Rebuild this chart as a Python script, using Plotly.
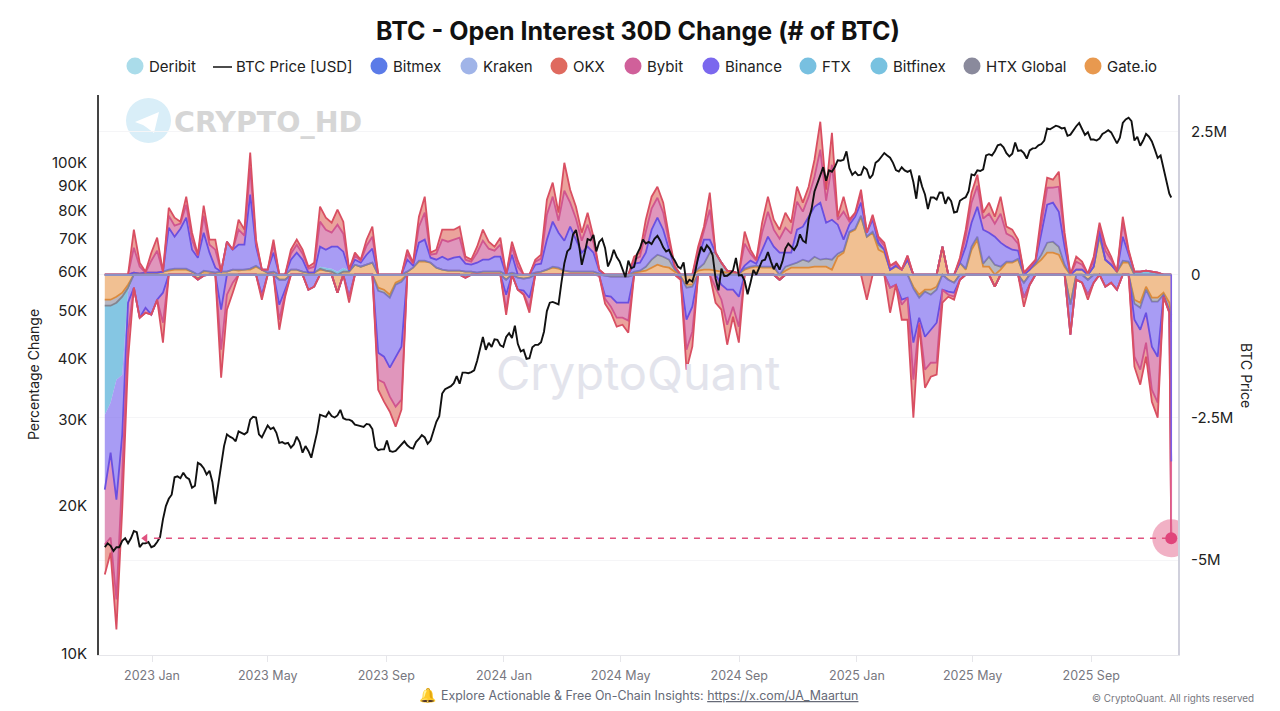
import pandas as pd
import plotly.graph_objects as go

# 30D open interest change per exchange, thousands of BTC
gate = [
    -438,-438,-385,-315,-175,35,18,35,35,35,
    53,70,88,88,88,53,-70,53,53,35,
    53,53,88,70,88,88,140,88,35,53,
    -88,-88,88,88,53,35,35,88,70,53,
    -315,53,53,175,140,175,210,-228,-263,-350,
    -140,-88,53,123,228,228,210,123,88,70,
    70,70,53,53,35,53,53,53,53,-88,
    35,-53,-70,-53,35,53,88,123,105,70,
    53,53,53,53,53,18,-18,-35,-35,-35,
    -35,35,53,70,123,175,140,123,53,-35,
    -175,-175,70,88,88,70,53,35,35,18,
    88,123,140,123,123,123,-88,70,123,123,
    123,123,140,140,140,88,315,385,735,788,
    1015,665,735,438,385,88,140,88,263,-210,
    -350,-263,-263,-210,490,-88,-140,210,88,438,
    613,140,140,-210,88,210,210,263,-140,88,
    175,263,385,385,350,140,-525,88,88,-88,
    140,665,263,175,53,210,210,-438,-490,-210,
    -403,-403,-315,-490,-700,
]
htx = [
    -105,-105,-105,-70,-53,0,0,0,0,0,
    0,18,18,18,18,0,0,18,0,0,
    0,0,0,18,0,18,18,0,0,0,
    0,0,0,0,0,0,0,18,0,0,
    0,0,0,0,0,0,0,-53,-53,-53,
    -35,-35,0,0,18,18,0,0,0,0,
    0,0,0,0,0,0,0,0,0,0,
    0,0,0,0,0,0,0,18,18,0,
    0,0,0,0,0,0,0,0,0,0,
    0,18,18,70,140,175,175,140,35,0,
    -53,-35,35,105,298,315,158,35,18,0,
    18,18,18,18,18,18,0,70,53,88,
    140,105,175,123,140,175,53,35,18,18,
    18,0,18,88,53,0,18,0,0,-35,
    -53,-35,-88,-53,0,0,0,0,18,53,
    53,53,175,175,53,18,18,18,0,0,
    18,88,175,193,140,35,0,0,0,0,
    0,18,0,0,0,35,18,-70,-88,-53,
    -70,-70,-35,-123,-123,
]
ftx = [
    -1908,-1698,-1348,-1365,-70,0,0,0,0,0,
    0,0,0,0,0,0,-18,-18,0,0,
    0,0,0,0,0,0,0,0,0,0,
    0,0,0,0,0,0,0,35,53,53,
    53,70,18,0,0,0,0,0,0,0,
    0,0,0,0,0,0,0,0,0,0,
    0,0,-53,0,0,0,0,0,0,0,
    0,0,0,0,0,0,0,0,0,0,
    0,0,0,0,0,-18,0,0,0,0,
    0,0,0,0,0,0,0,0,0,0,
    0,0,0,0,0,0,0,0,0,0,
    0,0,0,0,0,0,0,0,0,0,
    0,0,0,0,0,0,0,0,0,0,
    0,0,0,0,0,0,0,0,0,0,
    0,0,0,0,0,0,0,0,0,0,
    0,0,0,0,0,0,0,0,0,0,
    0,0,0,0,0,0,0,0,0,0,
    0,0,0,0,0,0,0,53,53,70,
    53,35,0,0,0,
]
binance = [
    -1313,-875,-2100,-1050,-193,-228,-753,-578,-700,-438,
    -315,735,560,700,893,385,298,665,333,88,
    -613,525,350,438,438,1295,333,-350,53,333,
    -438,-175,175,298,210,-263,-210,350,315,385,
    438,280,-385,88,70,175,245,-1085,-1120,-1225,
    -1260,-1138,210,35,315,368,88,140,228,193,
    228,245,140,123,175,210,210,263,263,-263,
    315,-210,-210,-350,140,140,525,788,613,525,
    788,560,333,438,333,53,-350,-350,-455,-455,
    -455,140,140,245,525,648,473,175,35,-35,
    -560,-350,175,420,228,0,-175,-263,-263,-385,
    53,105,35,298,525,350,385,245,210,578,
    578,788,875,998,630,700,508,193,123,210,
    228,70,210,35,0,-228,-175,-438,-403,-945,
    -350,-788,-613,-578,-263,-210,-175,-88,385,420,
    525,595,420,490,420,263,210,140,-263,-175,
    35,350,665,683,613,315,-525,-88,-140,-263,
    -140,88,-210,-140,-263,420,123,-280,-385,-403,
    -788,-963,-18,-35,-2450,
]
bybit = [
    -963,-1488,-1750,-700,-525,438,123,-88,210,385,
    -525,210,193,88,228,175,35,298,140,315,
    -700,-350,-140,263,158,473,70,-35,0,140,
    -263,-70,105,140,105,70,105,438,350,245,
    385,315,18,70,35,158,210,-473,-455,-508,
    -875,-928,105,35,280,473,53,105,298,315,
    315,333,70,53,175,333,193,105,210,-263,
    140,140,-53,-175,53,88,438,438,210,875,
    420,368,210,385,175,18,-53,-175,-263,-263,
    -315,70,105,368,368,350,298,140,18,-18,
    -525,-438,123,140,525,-228,-263,-613,-298,-525,
    385,123,53,298,438,298,245,438,333,490,
    263,350,525,928,385,963,88,490,53,53,
    158,0,53,70,70,70,35,-88,70,-648,
    -88,-578,-578,-700,0,-53,-70,53,175,350,
    368,193,333,228,508,228,228,123,35,35,
    18,210,298,263,438,158,0,140,88,18,
    105,88,158,88,0,245,53,-648,-700,-525,
    -753,-805,-18,-18,-1330,
]
okx = [
    -525,-263,-525,-600,-473,315,70,18,140,228,
    -350,140,140,35,140,123,18,175,88,175,
    -490,-263,-175,175,105,263,53,-53,0,88,
    -175,-53,70,88,70,35,70,263,210,175,
    263,210,-105,53,18,105,175,-175,-333,-263,
    -350,-175,70,18,175,280,35,70,175,210,
    175,193,53,35,105,193,123,70,123,-88,
    88,105,-18,-88,35,70,263,245,140,490,
    228,210,140,210,105,0,-88,-105,-158,-123,
    -210,53,70,210,210,193,175,88,0,0,
    -350,-263,88,88,298,-263,-175,-350,-175,-280,
    210,70,18,175,263,175,158,263,193,263,
    158,175,298,490,193,560,53,263,35,18,
    70,-438,35,35,53,-438,35,-263,-385,-665,
    -35,-315,-245,-210,-228,-35,-53,35,123,175,
    193,105,193,123,298,123,123,70,-158,18,
    18,140,175,140,263,88,0,88,53,-88,
    70,53,105,53,0,105,35,-175,-263,-245,
    -210,-263,0,0,0,
]
# these barely leave the zero line
flat_dates = ["2022-11-13", "2023-11-13", "2024-11-13", "2025-11-23"]
bitmex = [-5, 0, 0, 0]
kraken = [0, 0, 0, 0]
bitfinex = [0, 0, 0, 0]
deribit = [0, 0, 0, 0]

# BTC price, thousands of USD
price = [
    16.5,16.8,16.6,16.2,16.5,16.5,17.0,17.2,16.8,17.2,17.8,17.7,16.5,16.8,16.8,16.9,16.5,16.6,16.9,17.3,
    18.8,20.0,20.7,21.1,22.9,23.0,22.8,23.4,22.9,22.7,21.8,22.0,24.5,24.3,23.9,23.2,23.6,22.4,20.2,21.9,
    24.2,26.5,28.0,27.7,27.5,27.1,28.4,28.2,28.0,28.3,30.0,30.4,30.3,28.0,27.6,28.4,29.2,28.7,28.9,28.2,
    26.9,27.0,26.8,26.9,26.3,26.7,27.7,27.0,25.7,26.5,25.9,25.1,26.5,28.3,30.7,30.5,30.4,31.1,30.5,30.3,
    30.6,31.4,30.2,30.0,30.0,29.8,29.3,29.2,29.1,29.0,29.4,29.3,28.7,26.4,26.0,26.1,26.1,27.2,25.9,25.8,
    25.9,26.3,26.6,27.1,26.6,26.3,26.2,27.0,27.4,27.9,27.6,26.8,27.2,28.3,29.7,30.5,33.9,34.6,34.9,35.1,
    35.6,36.8,35.5,37.4,37.4,37.3,37.5,37.8,39.5,41.9,44.2,41.6,43.0,42.2,43.7,43.6,42.5,42.2,44.2,45.0,
    44.0,46.6,42.8,41.3,41.6,39.9,40.0,42.1,42.6,42.6,43.1,45.3,49.9,51.9,52.1,51.8,51.5,57.0,62.4,66.0,
    66.9,71.5,73.0,68.4,62.0,65.5,69.9,69.5,71.3,66.0,69.0,70.0,67.1,61.5,63.5,66.5,64.3,63.0,60.6,58.5,
    63.2,61.0,61.4,65.2,67.0,69.8,68.5,69.0,68.3,70.0,71.0,69.4,67.3,66.0,66.5,64.5,63.2,61.5,60.9,62.7,
    56.7,57.8,57.3,60.0,64.1,67.5,65.9,67.9,66.8,64.8,58.1,55.0,60.9,58.8,58.9,59.5,60.4,64.0,59.0,59.1,
    57.5,54.0,57.0,60.5,59.2,61.0,63.2,63.5,65.8,63.0,60.7,62.5,60.6,63.0,66.9,68.5,67.4,66.5,68.0,71.5,
    69.4,68.8,76.7,80.5,87.4,91.0,94.3,98.0,91.9,96.5,95.9,98.0,101.2,101.0,101.4,105.5,97.5,94.5,95.8,94.3,
    94.6,98.0,96.9,93.0,94.5,100.0,101.1,103.0,104.7,103.5,102.4,100.0,96.6,96.0,97.9,96.5,95.8,96.5,91.4,84.5,
    94.2,89.5,86.2,80.5,85.0,85.0,84.2,87.0,86.9,82.5,85.2,83.5,79.2,79.5,83.7,84.5,85.1,87.5,94.7,94.3,
    96.5,96.2,97.0,103.5,104.1,103.5,105.6,108.5,109.0,107.5,104.6,103.0,104.3,110.0,105.7,106.0,104.6,102.0,106.0,107.0,
    107.1,108.5,109.2,111.0,117.5,117.0,117.9,119.0,118.5,117.5,117.8,113.5,114.1,116.5,118.7,120.5,117.5,114.0,115.4,111.5,
    111.5,111.0,112.0,114.5,115.4,116.5,115.3,112.5,109.5,112.5,120.5,122.5,123.5,121.5,111.0,113.0,108.3,111.0,114.5,113.0,
    110.5,106.5,102.3,103.5,97.0,92.0,86.5,85.0,
]
dates = list(pd.date_range("2022-11-13", "2025-11-21", periods=184)) + [pd.Timestamp("2025-11-23")]
price_dates = list(pd.date_range("2022-11-13", "2025-11-21", periods=367)) + [pd.Timestamp("2025-11-23")]

level_dates = ["2023-01-03", "2025-11-23"]
level_price = [17.2, 17.2]
arrow_date = ["2022-12-25"]
arrow_price = [17.2]
point_date = ["2025-11-23"]
point_price = [17.2]

price_ticks = [10, 20, 30, 40, 50, 60, 70, 80, 90, 100]
oi_ticks = [2.5e6, 0, -2.5e6, -5e6]
oi_labels = ["2.5M", "0", "-2.5M", "-5M"]

legend_names = ["Deribit", "BTC Price [USD]", "Bitmex", "Kraken", "OKX", "Bybit", "Binance",
                "FTX", "Bitfinex", "HTX Global", "Gate.io"]
legend_text_x = [149, 236, 393, 483, 573, 647, 725, 822, 893, 986, 1107]

FONT = "Inter, 'Liberation Sans', sans-serif"
PLOT_L, PLOT_R, PLOT_T, PLOT_B = 99, 1178, 95, 655


def px(x):
    return (x - PLOT_L) / (PLOT_R - PLOT_L)


def py(y):
    return (PLOT_B - y) / (PLOT_B - PLOT_T)


def rgba(hex_color, alpha):
    r, g, b = (int(hex_color[i:i + 2], 16) for i in (1, 3, 5))
    return f"rgba({r},{g},{b},{alpha})"


def add_stacked(fig, name, values, line_color=None, alpha=0.62):
    # positive and negative days stack away from zero on their own
    pos = [max(v, 0) * 1000 for v in values]
    neg = [min(v, 0) * 1000 for v in values]
    for group, ys in (("up", pos), ("down", neg)):
        fig.add_trace(go.Scatter(
            x=dates, y=ys, name=name, stackgroup=group, showlegend=False,
            mode="lines", yaxis="y",
            line=dict(color=line_color or COLORS[name], width=1.8 if line_color else 0),
            fillcolor=rgba(COLORS[name], alpha),
        ))


def note(text, x, y, size, color, family=FONT, anchor="center", angle=0, weight=None):
    return dict(text=text, x=px(x), y=py(y), xref="paper", yref="paper", showarrow=False,
                xanchor=anchor, yanchor="middle", textangle=angle,
                font=dict(family=family, size=size, color=color, weight=weight))


COLORS = {
    "Deribit": "#aadcea", "Bitmex": "#5b7be8", "Kraken": "#a0b4e8", "OKX": "#df6a5f",
    "Bybit": "#d0609a", "Binance": "#7b68ee", "FTX": "#78c0e0", "Bitfinex": "#78c2e0",
    "HTX Global": "#8a8a9c", "Gate.io": "#e8994f",
}

fig = go.Figure()

# nearest to zero goes in first
add_stacked(fig, "Gate.io", gate, line_color="#dc8a3c")
add_stacked(fig, "HTX Global", htx, line_color="#84848f")
add_stacked(fig, "FTX", ftx, alpha=0.9)
add_stacked(fig, "Binance", binance, line_color="#6a4fe0", alpha=0.66)
add_stacked(fig, "Bybit", bybit, line_color="#d0558f", alpha=0.66)
add_stacked(fig, "OKX", okx, line_color="#d94f62")

for name, vals in (("Kraken", kraken), ("Bitfinex", bitfinex), ("Deribit", deribit)):
    fig.add_trace(go.Scatter(
        x=flat_dates, y=[v * 1000 for v in vals], name=name, mode="lines", showlegend=False,
        yaxis="y", line=dict(color=COLORS[name], width=0.5),
    ))
fig.add_trace(go.Scatter(
    x=flat_dates, y=[v * 1000 for v in bitmex], name="Bitmex", mode="lines", showlegend=False,
    yaxis="y", line=dict(color="#8d90c4", width=1.9),
))

# last day plunge, redrawn so the purple part is not hidden under the red edge
last_binance = (gate[-1] + htx[-1] + ftx[-1] + binance[-1]) * 1000
last_total = last_binance + (bybit[-1] + okx[-1]) * 1000
fig.add_trace(go.Scatter(x=[dates[-1], dates[-1]], y=[0, last_binance], mode="lines", showlegend=False,
                         yaxis="y", line=dict(color="#7b5fe8", width=1.6)))
fig.add_trace(go.Scatter(x=[dates[-1], dates[-1]], y=[last_binance, last_total], mode="lines",
                         showlegend=False, yaxis="y", line=dict(color="#e0689c", width=1.6)))

fig.add_trace(go.Scatter(
    x=price_dates, y=[p * 1000 for p in price], name="BTC Price [USD]", mode="lines", showlegend=False,
    yaxis="y2", line=dict(color="#111111", width=1.9),
))

# price level marked by the original author
fig.add_trace(go.Scatter(
    x=level_dates, y=[p * 1000 for p in level_price], mode="lines", showlegend=False, yaxis="y2",
    line=dict(color="#e0527f", width=1.5, dash="6px,6px"),
))
fig.add_trace(go.Scatter(
    x=arrow_date, y=[p * 1000 for p in arrow_price], mode="markers", showlegend=False, yaxis="y2",
    marker=dict(symbol="triangle-left", size=8, color="#e0527f"),
))
fig.add_trace(go.Scatter(
    x=point_date, y=[p * 1000 for p in point_price], mode="markers", showlegend=False, yaxis="y2",
    marker=dict(size=38, color="rgba(224,82,127,0.45)"),
))
fig.add_trace(go.Scatter(
    x=point_date, y=[p * 1000 for p in point_price], mode="markers", showlegend=False, yaxis="y2",
    marker=dict(size=12, color="#e0457b"),
))

shapes = [
    # telegram badge behind the CRYPTO_HD mark
    dict(type="circle", xref="paper", yref="paper", x0=px(126), x1=px(171), y0=py(143), y1=py(98),
         fillcolor="#d9eef8", line=dict(width=0), layer="below"),
    dict(type="path", xref="paper", yref="paper", layer="below", fillcolor="#ffffff", line=dict(width=0),
         path=f"M {px(135)} {py(122)} L {px(159)} {py(112)} L {px(154)} {py(133)} "
              f"L {px(146)} {py(127)} L {px(143)} {py(125)} Z"),
]

annotations = [
    note("CRYPTO_HD", 268, 122, 28.5, "#d6d6d6", family="DejaVu Sans", weight=700),
    note("CryptoQuant", 638, 372, 47, "#e3e4ec"),
    note("Percentage Change", 33, 375, 14, "#222222", angle=-90),
    note("BTC Price", 1247, 375, 14, "#222222", angle=90),
    note("🔔", 427, 695, 14, "#d9a33a"),
    note("Explore Actionable &amp; Free On-Chain Insights: <u>https://x.com/JA_Maartun</u>",
         439, 695, 12.4, "#666a77", anchor="left"),
    note("© CryptoQuant. All rights reserved", 1256, 698, 9.9, "#777780", anchor="right"),
]

# legend row, placed by hand: the native one cannot sit this tight
for name, text_x in zip(legend_names, legend_text_x):
    annotations.append(note(name, text_x - 2, 67, 15, "#222222", anchor="left"))
    if name == "BTC Price [USD]":
        shapes.append(dict(type="line", xref="paper", yref="paper", x0=px(213), x1=px(232), y0=py(67), y1=py(67),
                           line=dict(color="#111111", width=1.5)))
    else:
        mx = text_x - 14
        shapes.append(dict(type="circle", xref="paper", yref="paper", x0=px(mx - 8.5), x1=px(mx + 8.5),
                           y0=py(74.5), y1=py(57.5), fillcolor=COLORS[name], line=dict(width=0)))

fig.update_layout(
    width=1280, height=711,
    margin=dict(l=PLOT_L, r=1280 - PLOT_R, t=PLOT_T, b=711 - PLOT_B),
    paper_bgcolor="white", plot_bgcolor="white",
    font=dict(family=FONT),
    showlegend=False,
    title=dict(text="BTC - Open Interest 30D Change (# of BTC)", x=638 / 1280, xanchor="center",
               y=1 - 31 / 711, yanchor="middle", xref="container",
               font=dict(family=FONT, size=25, color="#111111", weight=700)),
    xaxis=dict(range=["2022-11-07", "2025-11-30"], tick0="2023-01-01", dtick="M4", tickformat="%Y %b",
               showgrid=False, zeroline=False, showline=True, linecolor="#e6e6ea", linewidth=1,
               ticks="outside", ticklen=6, tickcolor="#e6e6ea", ticklabelstandoff=3,
               tickfont=dict(family=FONT, size=12.5, color="#777780")),
    yaxis=dict(side="right", range=[-6.66e6, 3.147e6], tickvals=oi_ticks, ticktext=oi_labels,
               showgrid=True, gridcolor="#f5f5f7", zeroline=False, showline=True,
               linecolor="#d0d0dc", linewidth=2, ticks="", ticklabelstandoff=8,
               tickfont=dict(family=FONT, size=15, color="#222222")),
    yaxis2=dict(side="left", overlaying="y", type="log", range=[3.998, 5.138],
                tickvals=[t * 1000 for t in price_ticks], ticktext=[f"{t}K" for t in price_ticks],
                showgrid=False, zeroline=False, showline=True, linecolor="#444444", linewidth=2,
                ticks="", ticklabelstandoff=7,
                tickfont=dict(family=FONT, size=15, color="#222222")),
    shapes=shapes,
    annotations=annotations,
)

fig.write_html("out.html", config={"displayModeBar": False},
               post_script="document.body.style.margin='0';")
